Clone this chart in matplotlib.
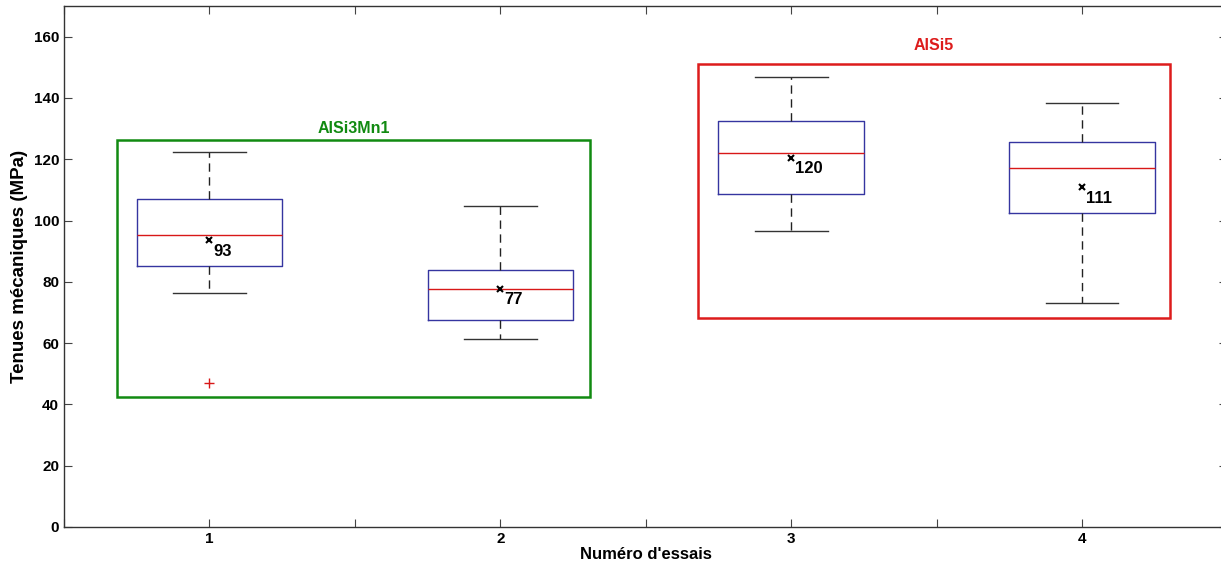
import matplotlib
matplotlib.use("Agg")
import matplotlib.pyplot as plt
from matplotlib.patches import Rectangle

plt.rcParams["font.family"] = ["Liberation Sans", "DejaVu Sans"]
plt.rcParams["font.weight"] = "bold"

# ---- data ------------------------------------------------------------
essais = [1, 2, 3, 4]
whis_lo = [76.3, 61.2, 96.6, 73.2]
q1 = [85.2, 67.5, 108.5, 102.3]
medians = [95.2, 77.8, 122.1, 117.0]
q3 = [107.0, 83.8, 132.6, 125.5]
whis_hi = [122.3, 104.9, 147.0, 138.3]
means = [93.5, 77.6, 120.3, 110.8]
mean_labels = ["93", "77", "120", "111"]
fliers = [[47.0], [], [], []]

# alloy groups: (name, colour, x0, x1, y0, y1, label y)
groups = [
    ("AlSi3Mn1", "#118a11", 0.683, 2.307, 42.4, 126.2, 130.0),
    ("AlSi5", "#dd1c1c", 2.678, 4.302, 68.1, 151.2, 157.0),
]

fig = plt.figure(figsize=(12.21, 5.65), dpi=100)
ax = fig.add_axes([0.0524, 0.0673, 0.9529, 0.922])

stats = []
for i in range(len(essais)):
    stats.append(dict(med=medians[i], q1=q1[i], q3=q3[i],
                      whislo=whis_lo[i], whishi=whis_hi[i],
                      fliers=fliers[i], mean=means[i]))

ax.bxp(stats, positions=essais, widths=0.5, showfliers=True, showmeans=True,
       capwidths=0.25,
       boxprops=dict(color="#3535a0", lw=1.0),
       medianprops=dict(color="#d81818", lw=1.0),
       whiskerprops=dict(color="#222222", lw=1.0, linestyle=(0, (6, 4))),
       capprops=dict(color="#333333", lw=1.0),
       flierprops=dict(marker="+", markeredgecolor="#d81818", markersize=7,
                       markeredgewidth=1.0),
       meanprops=dict(marker="x", markeredgecolor="black", markersize=5,
                      markeredgewidth=1.5))

# mean values written next to the crosses
for x, m, lab in zip(essais, means, mean_labels):
    ax.text(x + 0.012, m - 1.0, lab, ha="left", va="top", fontsize=12,
            fontweight="bold")

for name, col, x0, x1, y0, y1, ty in groups:
    ax.add_patch(Rectangle((x0, y0), x1 - x0, y1 - y0, fill=False,
                           edgecolor=col, lw=1.8, zorder=1))
    ax.text((x0 + x1) / 2, ty, name, ha="center", va="center", color=col,
            fontsize=11.5, fontweight="bold")

ax.set_xlim(0.5, 4.5)
ax.set_ylim(0, 170)
ax.set_xticks([0.5, 1, 1.5, 2, 2.5, 3, 3.5, 4, 4.5])
ax.set_xticklabels(["", "1", "", "2", "", "3", "", "4", ""])
ax.set_yticks(range(0, 161, 20))
ax.tick_params(direction="in", length=6, top=True, right=True,
               labelsize=11, color="#444444")
for s in ax.spines.values():
    s.set_color("#333333")
    s.set_linewidth(1.0)

ax.set_xlabel("Numéro d'essais", fontsize=12, fontweight="bold", labelpad=1)
ax.set_ylabel("Tenues mécaniques (MPa)", fontsize=13.5, fontweight="bold",
              labelpad=4)

fig.savefig("out.png", dpi=100)
